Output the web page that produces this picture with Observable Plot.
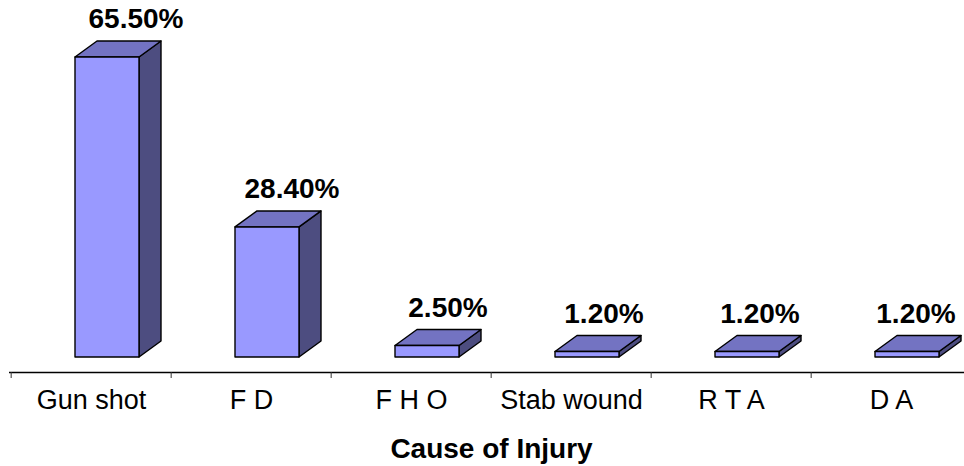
<!DOCTYPE html>
<html>
<head>
<meta charset="utf-8">
<script src="https://cdn.jsdelivr.net/npm/d3@7"></script>
<script src="https://cdn.jsdelivr.net/npm/@observablehq/plot@0.6"></script>
<style>
  html, body { margin: 0; padding: 0; background: #ffffff; }
  #chart svg { display: block; }
</style>
</head>
<body>
<div id="chart"></div>
<script>
// ---- data ----
const categories = ["Gun shot", "F D", "F H O", "Stab wound", "R T A", "D A"];
const percentValues = [65.5, 28.4, 2.5, 1.2, 1.2, 1.2];
const valueLabels = ["65.50%", "28.40%", "2.50%", "1.20%", "1.20%", "1.20%"];
const axisTitle = "Cause of Injury";

const data = categories.map((c, i) => ({ cause: c, value: percentValues[i], label: valueLabels[i] }));

// ---- style ----
const FONT = '"Liberation Sans", Arial, Helvetica, sans-serif';
const frontColor = "#9999ff";
const topColor = "#7373c2";
const sideColor = "#4d4d80";
const depthX = 22, depthY = 16, floorLift = 15;
const faceStart = 0.4, faceWidth = 0.4;
const labelShift = 45, labelConverge = 0.025, labelRise = 44;

// custom 3D box renderer, positions derived from Plot's scales
function box3d(index, scales, values, dimensions, context) {
  const g = d3.create("svg:g").attr("stroke", "#000").attr("stroke-width", 1.4).attr("stroke-linejoin", "round");
  const bw = scales.x.bandwidth();
  for (const i of index) {
    const d = data[i];
    const x0 = scales.x(d.cause) + faceStart * bw;
    const x1 = x0 + faceWidth * bw;
    const yb = scales.y(0) - floorLift;
    const yt = scales.y(d.value) - floorLift;
    g.append("path").attr("fill", sideColor)
      .attr("d", `M${x1},${yb}L${x1 + depthX},${yb - depthY}L${x1 + depthX},${yt - depthY}L${x1},${yt}Z`);
    g.append("path").attr("fill", topColor)
      .attr("d", `M${x0},${yt}L${x0 + depthX},${yt - depthY}L${x1 + depthX},${yt - depthY}L${x1},${yt}Z`);
    g.append("rect").attr("fill", frontColor)
      .attr("x", x0).attr("y", yt).attr("width", x1 - x0).attr("height", yb - yt);
  }
  return g.node();
}

// value labels, placed from the scales with a slight perspective convergence
function valueText(index, scales, values, dimensions, context) {
  const g = d3.create("svg:g").attr("font-weight", "bold").attr("font-size", 28)
    .attr("text-anchor", "middle").attr("fill", "#000");
  const bw = scales.x.bandwidth();
  const c0 = scales.x(categories[0]) + bw / 2;
  for (const i of index) {
    const d = data[i];
    const c = scales.x(d.cause) + bw / 2;
    g.append("text")
      .attr("x", c + labelShift - labelConverge * (c - c0))
      .attr("y", scales.y(d.value) - labelRise)
      .text(d.label);
  }
  return g.node();
}

const bandWidthPx = (964 - 9 + 9) / categories.length;

const chart = Plot.plot({
  width: 964,
  height: 466,
  marginLeft: 9,
  marginRight: -9,
  marginTop: 51.4,
  marginBottom: 94,
  style: { fontFamily: FONT, fontSize: "27px", color: "#000", background: "#fff" },
  x: { domain: categories, padding: 0, label: null },
  y: { domain: [0, 70], axis: null },
  marks: [
    Plot.barY(data, { x: "cause", y: "value", render: box3d }),
    Plot.ruleY([0], { stroke: "#000", strokeWidth: 1.4 }),
    Plot.axisX({ tickSize: 6, tickFormat: () => "", dx: -bandWidthPx / 2, stroke: "#333", label: null }),
    Plot.axisX({ tickSize: 0, tickPadding: 17, fontSize: 27, label: null }),
    Plot.text(data, { x: "cause", y: "value", text: "label", render: valueText }),
    Plot.text([axisTitle], { frameAnchor: "bottom", dy: 77, lineAnchor: "middle", fontWeight: "bold", fontSize: 28 })
  ]
});

document.getElementById("chart").appendChild(chart);
</script>
</body>
</html>
